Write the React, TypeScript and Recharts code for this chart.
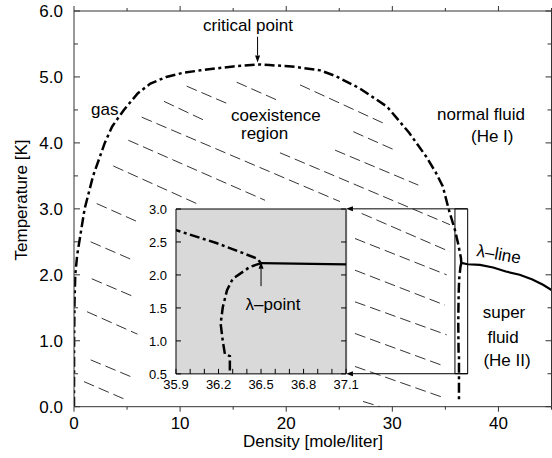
import React from "react";
import {
  LineChart,
  Line,
  XAxis,
  YAxis,
  ReferenceLine,
  ReferenceArea,
  CartesianGrid,
} from "recharts";

const FONT = "'Liberation Sans', Arial, Helvetica, sans-serif";

// liquid-vapour coexistence curve, density [mole/liter] / temperature [K]
const COEX_D = [
  0, 0.01, 0.05, 0.12, 0.3, 0.5, 1.0, 1.8, 2.9, 3.6, 4.7, 6.0, 7.2, 8.7, 10.2,
  11.9, 15.0, 17.3, 18.4, 20.5, 23.2, 24.7, 26.9, 29.5, 31.6, 33.2, 34.1, 34.76,
  35.3, 35.9, 36.19, 36.35, 36.47, 36.5,
];
const COEX_T = [
  0, 1.0, 1.6, 2.0, 2.3, 2.5, 3.0, 3.5, 4.0, 4.25, 4.5, 4.75, 4.9, 5.0, 5.06,
  5.1, 5.16, 5.19, 5.18, 5.16, 5.1, 5.01, 4.83, 4.55, 4.15, 3.79, 3.55, 3.34,
  3.0, 2.68, 2.48, 2.35, 2.25, 2.18,
];

// He II side of the boundary below the lambda point
const LOWER_D = [36.5, 36.42, 36.3, 36.26, 36.23, 36.215, 36.23, 36.245, 36.28, 36.28, 36.28];
const LOWER_T = [2.18, 2.12, 1.94, 1.77, 1.51, 1.26, 1.0, 0.8, 0.77, 0.5, 0.1];

// lambda line
const LAMBDA_D = [36.5, 37.1, 38.26, 39.5, 40.7, 42.0, 43.2, 44.2, 45];
const LAMBDA_T = [2.18, 2.16, 2.15, 2.11, 2.05, 2.0, 1.93, 1.85, 1.77];

// hatching of the coexistence region: [d1, t1, d2, t2]
const HATCH = [
  [15.33, 4.92, 19.41, 4.63],
  [21.3, 4.88, 29.15, 4.3],
  [10.62, 4.86, 14.54, 4.59],
  [8.48, 4.63, 12.44, 4.33],
  [6.38, 4.39, 25.07, 3.11],
  [5.12, 4.04, 18.0, 3.13],
  [3.7, 3.65, 11.56, 3.08],
  [2.14, 3.08, 5.91, 2.81],
  [1.57, 2.5, 5.59, 2.22],
  [1.67, 1.94, 5.75, 1.66],
  [1.23, 1.44, 5.98, 1.1],
  [1.57, 0.71, 5.59, 0.44],
  [0.94, 0.38, 4.97, 0.1],
  [26.32, 4.17, 30.25, 3.89],
  [24.6, 3.89, 32.45, 3.36],
  [19.41, 3.85, 35.43, 2.76],
  [27.11, 2.93, 35.43, 2.35],
  [26.48, 2.55, 35.12, 2.0],
  [26.48, 2.07, 34.96, 1.54],
  [26.48, 1.59, 35.12, 1.09],
  [26.48, 1.11, 34.65, 0.63],
  [26.48, 0.61, 34.96, 0.13],
  [27.24, 0.08, 28.84, 0.0],
];

const MAIN_X_TICKS = [0, 5, 10, 15, 20, 25, 30, 35, 40, 45];
const MAIN_X_LABELS = [0, 10, 20, 30, 40];
const MAIN_Y_TICKS = [0, 0.5, 1, 1.5, 2, 2.5, 3, 3.5, 4, 4.5, 5, 5.5, 6];
const MAIN_Y_LABELS = [0, 1, 2, 3, 4, 5, 6];

const ZOOM_BOX = { d1: 35.9, d2: 37.1, t1: 0.5, t2: 3.0 };
const INSET_X_TICKS = [35.9, 36.0, 36.1, 36.2, 36.3, 36.4, 36.5, 36.6, 36.7, 36.8, 36.9, 37.0, 37.1];
const INSET_X_LABELS = [35.9, 36.2, 36.5, 36.8, 37.1];
const INSET_Y_TICKS = [0.5, 1.0, 1.5, 2.0, 2.5, 3.0];

const pts = (ds: number[], ts: number[]) => ds.map((d, i) => ({ d, t: ts[i] }));
const coex = pts(COEX_D, COEX_T);
const lower = pts(LOWER_D, LOWER_T);
const lambda = pts(LAMBDA_D, LAMBDA_T);

// layout of the main plot
const W = 552;
const H = 458;
const PL = 74;
const PT = 11;
const PR = 551.5;
const PB = 406.7;
const xPx = (d: number) => PL + (d / 45) * (PR - PL);
const yPx = (t: number) => PB - (t / 6) * (PB - PT);

// where the inset sits, in main-plot units
const INSET_AT = { d1: 9.6, d2: 25.63 };
const inL = xPx(INSET_AT.d1);
const inR = xPx(INSET_AT.d2);
const inT = yPx(ZOOM_BOX.t2);
const inB = yPx(ZOOM_BOX.t1);
const IN_YW = 40;
const IN_TOP = 10;
const IN_XH = 24;
const IN_RM = 24;

const dashDot = "10 3.5 3 3.5";
const near = (arr: number[], v: number) => arr.some((a) => Math.abs(a - v) < 1e-6);

const Arrow = (p: any) => {
  const { x1, y1, x2, y2 } = p;
  const a = Math.atan2(y2 - y1, x2 - x1);
  const len = 7;
  const half = 2.5;
  const bx = x2 - len * Math.cos(a);
  const by = y2 - len * Math.sin(a);
  const nx = -Math.sin(a) * half;
  const ny = Math.cos(a) * half;
  return (
    <g>
      <line x1={x1} y1={y1} x2={bx} y2={by} stroke="#000" strokeWidth={1} />
      <polygon
        points={`${x2},${y2} ${bx + nx},${by + ny} ${bx - nx},${by - ny}`}
        fill="#000"
      />
    </g>
  );
};

const BottomTick = ({ x, y, payload }: any) => {
  const major = near(MAIN_X_LABELS, payload.value);
  return (
    <g>
      <line x1={x} y1={y} x2={x} y2={y + (major ? 5 : 3)} stroke="#333" />
      {major && (
        <text x={x} y={y + 22} textAnchor="middle" fontSize={17} fontFamily={FONT} fill="#000">
          {payload.value}
        </text>
      )}
    </g>
  );
};

const TopTick = ({ x, y, payload }: any) => {
  const major = near(MAIN_X_LABELS, payload.value);
  return <line x1={x} y1={y} x2={x} y2={y - (major ? 5 : 3)} stroke="#333" />;
};

const LeftTick = ({ x, y, payload }: any) => {
  const major = near(MAIN_Y_LABELS, payload.value);
  return (
    <g>
      <line x1={x} y1={y} x2={x + (major ? 6 : 4)} y2={y} stroke="#333" />
      {major && (
        <text x={x - 11} y={y} dy="0.36em" textAnchor="end" fontSize={17} fontFamily={FONT} fill="#000">
          {payload.value.toFixed(1)}
        </text>
      )}
    </g>
  );
};

const RightTick = ({ x, y, payload }: any) => {
  const major = near(MAIN_Y_LABELS, payload.value);
  return <line x1={x} y1={y} x2={x - (major ? 6 : 4)} y2={y} stroke="#333" />;
};

const InsetBottomTick = ({ x, y, payload }: any) => (
  <g>
    <line x1={x} y1={y} x2={x} y2={y - 5} stroke="#000" />
    {near(INSET_X_LABELS, payload.value) && (
      <text x={x} y={y + 15} textAnchor="middle" fontSize={13} fontFamily={FONT} fill="#000">
        {payload.value.toFixed(1)}
      </text>
    )}
  </g>
);

const InsetLeftTick = ({ x, y, payload }: any) => (
  <g>
    <line x1={x} y1={y} x2={x + 5} y2={y} stroke="#000" />
    <text x={x - 9} y={y} dy="0.36em" textAnchor="end" fontSize={13} fontFamily={FONT} fill="#000">
      {payload.value.toFixed(1)}
    </text>
  </g>
);

const InsetRightTick = ({ x, y }: any) => (
  <line x1={x} y1={y} x2={x - 5} y2={y} stroke="#000" />
);

function MainChart() {
  return (
    <LineChart width={W} height={H} margin={{ top: 0, right: W - PR - 0.5, bottom: H - PB - 30, left: 0 }}>
      <XAxis
        dataKey="d"
        type="number"
        domain={[0, 45]}
        allowDataOverflow
        ticks={MAIN_X_TICKS}
        interval={0}
        height={30}
        tickSize={0}
        tickMargin={0}
        tickLine={false}
        tick={(p: any) => <BottomTick {...p} />}
        axisLine={{ stroke: "#333" }}
      />
      <XAxis
        xAxisId="top"
        orientation="top"
        dataKey="d"
        type="number"
        domain={[0, 45]}
        allowDataOverflow
        ticks={MAIN_X_TICKS}
        interval={0}
        height={PT}
        tickSize={0}
        tickMargin={0}
        tickLine={false}
        tick={(p: any) => <TopTick {...p} />}
        axisLine={{ stroke: "#333" }}
      />
      <YAxis
        type="number"
        domain={[0, 6]}
        allowDataOverflow
        ticks={MAIN_Y_TICKS}
        interval={0}
        width={PL}
        tickSize={0}
        tickMargin={0}
        tickLine={false}
        tick={(p: any) => <LeftTick {...p} />}
        axisLine={{ stroke: "#333" }}
      />
      <YAxis
        yAxisId="right"
        orientation="right"
        type="number"
        domain={[0, 6]}
        allowDataOverflow
        ticks={MAIN_Y_TICKS}
        interval={0}
        width={0.5}
        tickSize={0}
        tickMargin={0}
        tickLine={false}
        tick={(p: any) => <RightTick {...p} />}
        axisLine={{ stroke: "#333" }}
      />

      {HATCH.map(([d1, t1, d2, t2], i) => (
        <ReferenceLine
          key={i}
          segment={[{ x: d1, y: t1 }, { x: d2, y: t2 }]}
          stroke="#000"
          strokeWidth={0.8}
          strokeDasharray="11 5"
        />
      ))}

      <ReferenceArea
        x1={ZOOM_BOX.d1}
        x2={ZOOM_BOX.d2}
        y1={ZOOM_BOX.t1}
        y2={ZOOM_BOX.t2}
        fill="none"
        stroke="#000"
        strokeWidth={1}
      />
      <ReferenceLine
        segment={[{ x: ZOOM_BOX.d2, y: ZOOM_BOX.t2 }, { x: INSET_AT.d2, y: ZOOM_BOX.t2 }]}
        shape={Arrow}
      />
      <ReferenceLine
        segment={[{ x: ZOOM_BOX.d2, y: ZOOM_BOX.t1 }, { x: INSET_AT.d2, y: ZOOM_BOX.t1 }]}
        shape={Arrow}
      />
      <ReferenceLine segment={[{ x: 17.3, y: 5.61 }, { x: 17.3, y: 5.22 }]} shape={Arrow} />

      <Line data={coex} dataKey="t" stroke="#000" strokeWidth={2.5} strokeDasharray={dashDot} dot={false} isAnimationActive={false} />
      <Line data={lower} dataKey="t" stroke="#000" strokeWidth={2.5} strokeDasharray={dashDot} dot={false} isAnimationActive={false} />
      <Line data={lambda} dataKey="t" stroke="#000" strokeWidth={2.2} dot={false} isAnimationActive={false} />
    </LineChart>
  );
}

function InsetChart() {
  const w = IN_YW + (inR - inL) + IN_RM + 1;
  const h = IN_TOP + (inB - inT) + IN_XH;
  return (
    <LineChart width={w} height={h} margin={{ top: IN_TOP, right: IN_RM, bottom: 0, left: 0 }}>
      <CartesianGrid fill="#d9d9d9" horizontal={false} vertical={false} />
      <XAxis
        dataKey="d"
        type="number"
        domain={[ZOOM_BOX.d1, ZOOM_BOX.d2]}
        allowDataOverflow
        ticks={INSET_X_TICKS}
        interval={0}
        height={IN_XH}
        tickSize={0}
        tickMargin={0}
        tickLine={false}
        axisLine={false}
        tick={(p: any) => <InsetBottomTick {...p} />}
      />
      <YAxis
        type="number"
        domain={[ZOOM_BOX.t1, ZOOM_BOX.t2]}
        allowDataOverflow
        ticks={INSET_Y_TICKS}
        interval={0}
        width={IN_YW}
        tickSize={0}
        tickMargin={0}
        tickLine={false}
        axisLine={false}
        tick={(p: any) => <InsetLeftTick {...p} />}
      />
      <YAxis
        yAxisId="right"
        orientation="right"
        type="number"
        domain={[ZOOM_BOX.t1, ZOOM_BOX.t2]}
        allowDataOverflow
        ticks={INSET_Y_TICKS}
        interval={0}
        width={1}
        tickSize={0}
        tickMargin={0}
        tickLine={false}
        axisLine={false}
        tick={(p: any) => <InsetRightTick {...p} />}
      />
      <ReferenceArea
        x1={ZOOM_BOX.d1}
        x2={ZOOM_BOX.d2}
        y1={ZOOM_BOX.t1}
        y2={ZOOM_BOX.t2}
        fill="none"
        stroke="#000"
        strokeWidth={1}
      />
      <ReferenceLine x={ZOOM_BOX.d2} stroke="#666" strokeWidth={2} />
      <Line data={coex} dataKey="t" stroke="#000" strokeWidth={2.5} strokeDasharray={dashDot} dot={false} isAnimationActive={false} />
      <Line data={lower} dataKey="t" stroke="#000" strokeWidth={2.5} strokeDasharray={dashDot} dot={false} isAnimationActive={false} />
      <Line data={lambda} dataKey="t" stroke="#000" strokeWidth={2.2} dot={false} isAnimationActive={false} />
      <ReferenceLine segment={[{ x: 36.5, y: 1.83 }, { x: 36.5, y: 2.2 }]} shape={Arrow} />
    </LineChart>
  );
}

export default function App() {
  const txt = { fontFamily: FONT, fontSize: 17, fill: "#000" };
  return (
    <div style={{ position: "absolute", left: 0, top: 0, width: W, height: H, background: "#fff", overflow: "hidden" }}>
      <div style={{ position: "absolute", left: 0, top: 0 }}>
        <MainChart />
      </div>
      <div style={{ position: "absolute", left: inL - IN_YW, top: inT - IN_TOP }}>
        <InsetChart />
      </div>
      <svg width={W} height={H} style={{ position: "absolute", left: 0, top: 0, pointerEvents: "none" }}>
        <text {...txt} x={248} y={31} textAnchor="middle">critical point</text>
        <text {...txt} x={91} y={115}>gas</text>
        <text {...txt} x={231} y={121}>coexistence</text>
        <text {...txt} x={241} y={139}>region</text>
        <text {...txt} x={437} y={120}>normal fluid</text>
        <text {...txt} x={471} y={142}>(He I)</text>
        <text {...txt} transform="translate(476,256) rotate(10)">λ–line</text>
        <text {...txt} x={504} y={318} textAnchor="middle">super</text>
        <text {...txt} x={503} y={343} textAnchor="middle">fluid</text>
        <text {...txt} x={507} y={366} textAnchor="middle">(He II)</text>
        <text {...txt} x={273} y={310} textAnchor="middle">λ–point</text>
        <text {...txt} x={313} y={447} textAnchor="middle">Density [mole/liter]</text>
        <text {...txt} transform="translate(27,200) rotate(-90)" textAnchor="middle">Temperature [K]</text>
      </svg>
    </div>
  );
}
